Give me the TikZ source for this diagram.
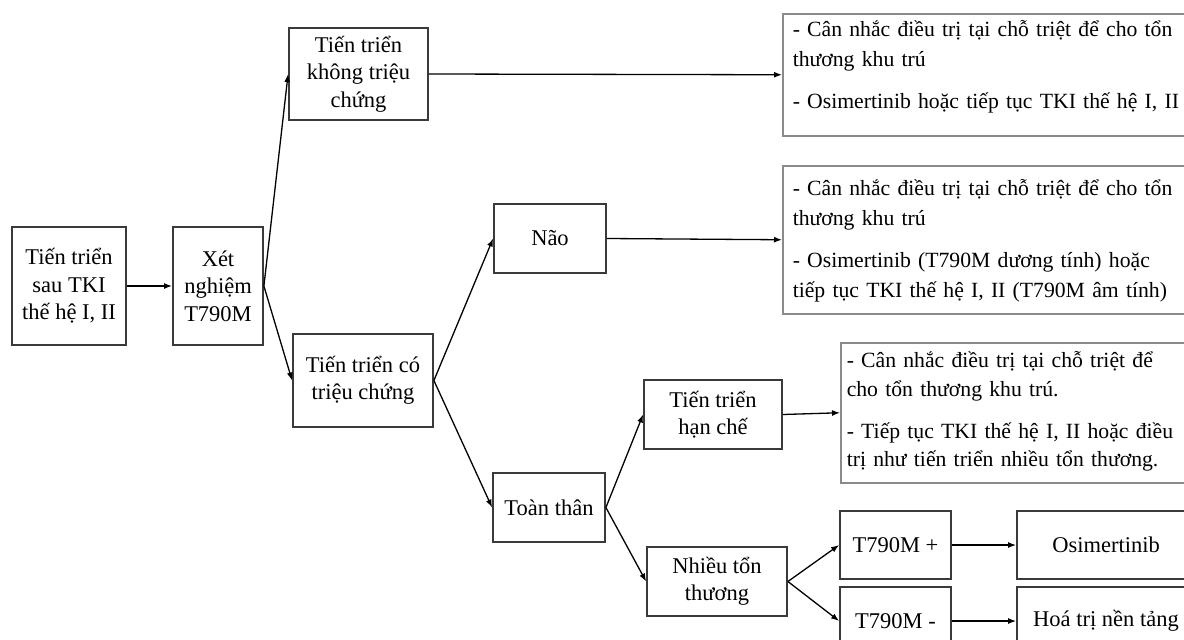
\documentclass[tikz,border=0pt]{standalone}
\usepackage{fontspec}
\setmainfont{Liberation Serif}
\usetikzlibrary{arrows.meta}
\definecolor{boxline}{HTML}{3A3A3A}
\definecolor{noteline}{HTML}{8A8A8A}
\begin{document}
\begin{tikzpicture}[x=1pt,y=-1pt,
  stepbox/.style={draw=boxline, line width=1.8pt, fill=white, align=center,
    inner sep=0pt, font=\fontsize{22.5}{27.5}\selectfont},
  notebox/.style={draw=noteline, line width=1.5pt, fill=white, align=left,
    anchor=north west, inner ysep=0pt, font=\fontsize{21.7}{29.5}\selectfont},
  arr/.style={draw=black, line width=1.3pt, -{Latex[length=8pt,width=6pt]}}]
\useasboundingbox (0,0) rectangle (1184,640);

% decision chain
\node[stepbox, minimum width=114pt, minimum height=118pt] (A) at (69,286) {Tiến triển\\sau TKI\\thế hệ I, II};
\node[stepbox, minimum width=90pt, minimum height=118pt] (B) at (218,286) {Xét\\nghiệm\\T790M};
\node[stepbox, minimum width=139pt, minimum height=92pt] (C) at (358.5,74) {Tiến triển\\không triệu\\chứng};
\node[stepbox, minimum width=140pt, minimum height=93pt] (D) at (363,380.5) {Tiến triển có\\triệu chứng};
\node[stepbox, minimum width=112pt, minimum height=69pt] (E) at (550,238.5) {Não};
\node[stepbox, minimum width=112pt, minimum height=69pt] (F) at (549,507.5) {Toàn thân};
\node[stepbox, minimum width=138pt, minimum height=69pt] (G) at (713,414.5) {Tiến triển\\hạn chế};
\node[stepbox, minimum width=140pt, minimum height=69pt] (H) at (717,581.5) {Nhiều tổn\\thương};
\node[stepbox, minimum width=111pt, minimum height=68pt] (I) at (895.5,545) {T790M +};
\node[stepbox, minimum width=111pt, minimum height=68pt] (J) at (895.5,621) {T790M -};
\node[stepbox, minimum width=178pt, minimum height=68pt] (K) at (1106,545) {Osimertinib};
\node[stepbox, minimum width=178pt, minimum height=68pt] (L) at (1106,621) {Hoá trị nền tảng};

% treatment notes
\node[notebox, text width=438pt, inner xsep=10pt, text height=23pt, text depth=99pt] (T1) at (782,13)
  {- Cân nhắc điều trị tại chỗ triệt để cho tổn\\thương khu trú\\[13pt]- Osimertinib hoặc tiếp tục TKI thế hệ I, II};
\node[notebox, text width=438pt, inner xsep=10pt, text height=30pt, text depth=118pt] (T2) at (782,165)
  {- Cân nhắc điều trị tại chỗ triệt để cho tổn\\thương khu trú\\[13pt]- Osimertinib (T790M dương tính) hoặc\\tiếp tục TKI thế hệ I, II (T790M âm tính)};
\node[notebox, text width=380pt, inner xsep=6pt, text height=25pt, text depth=115pt,
  font=\fontsize{21.7}{28.7}\selectfont] (T3) at (840,342)
  {- Cân nhắc điều trị tại chỗ triệt để\\cho tổn thương khu trú.\\[13pt]- Tiếp tục TKI thế hệ I, II hoặc điều\\trị như tiến triển nhiều tổn thương.};

% connectors
\draw[arr] (A.east) -- (B.west);
\draw[arr] (B.east) -- (C.west);
\draw[arr] (B.east) -- (D.west);
\draw[arr] (C.east) -- (T1.west);
\draw[arr] (D.east) -- (E.west);
\draw[arr] (D.east) -- (F.west);
\draw[arr] (E.east) -- (T2.west);
\draw[arr] (F.east) -- (G.west);
\draw[arr] (F.east) -- (H.west);
\draw[arr] (G.east) -- (T3.west);
\draw[arr] (H.east) -- (I.west);
\draw[arr] (H.east) -- (J.west);
\draw[arr] (I.east) -- (K.west);
\draw[arr] (J.east) -- (L.west);
\end{tikzpicture}
\end{document}
